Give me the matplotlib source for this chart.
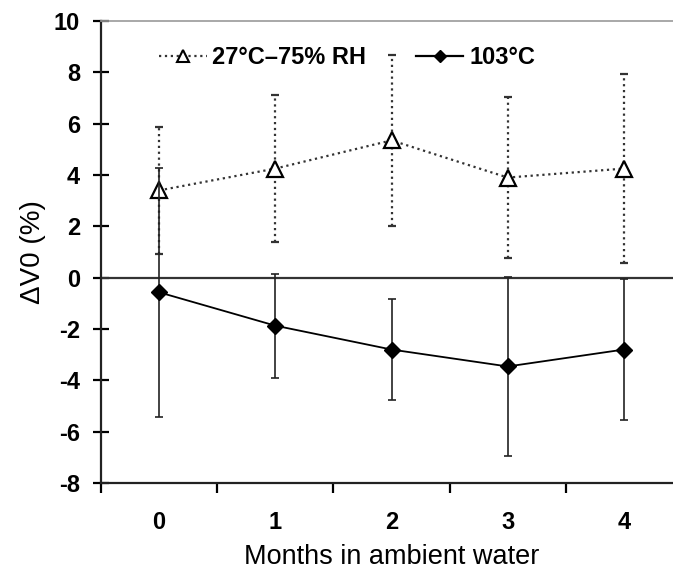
import numpy as np
import matplotlib.pyplot as plt
from matplotlib.lines import Line2D

plt.rcParams['font.family'] = ['Liberation Sans', 'DejaVu Sans']
plt.rcParams['axes.unicode_minus'] = False

months = [0, 1, 2, 3, 4]
month_labels = ['0', '1', '2', '3', '4']

# 27°C-75% RH
humid_mean = [3.4, 4.25, 5.35, 3.9, 4.25]
humid_err = [2.47, 2.85, 3.34, 3.15, 3.67]

# 103°C
dry_mean = [-0.57, -1.87, -2.8, -3.46, -2.8]
dry_err = [4.85, 2.03, 1.95, 3.47, 2.75]

fig = plt.figure(figsize=(6.73, 5.70), dpi=100)
ax = fig.add_axes([101 / 673, 87 / 570, 581 / 673, 462 / 570])

x = np.array(months)

eb1 = ax.errorbar(x, humid_mean, yerr=humid_err, color='#333333', ls=':', lw=1.6,
                  marker='^', ms=12, mfc='white', mec='black', mew=1.6,
                  ecolor='#333333', elinewidth=1.6, capsize=3, capthick=1.4,
                  zorder=3)
eb1[-1][0].set_linestyle(':')

ax.errorbar(x, dry_mean, yerr=dry_err, color='black', ls='-', lw=1.3,
            marker='D', ms=8, mfc='black', mec='black',
            ecolor='#222222', elinewidth=1.2, capsize=3, capthick=1.2,
            zorder=4)

ax.axhline(0, color='#333333', lw=1.6, zorder=2)

ax.set_xlim(-0.5, 4.5)
ax.set_ylim(-8, 10)
ax.set_yticks(np.arange(-8, 11, 2))
ax.set_xticks(x)
ax.set_xticklabels(month_labels)
ax.set_xticks(np.arange(-0.5, 4.6, 1), minor=True)
ax.tick_params(axis='x', which='major', length=0, pad=20, labelsize=17)
ax.tick_params(axis='x', which='minor', length=7, width=1.6, direction='out')
ax.tick_params(axis='y', length=11, width=1.6, direction='inout', pad=9.5, labelsize=17)
for lab in ax.get_xticklabels() + ax.get_yticklabels():
    lab.set_fontweight('bold')

for s in ['left', 'bottom']:
    ax.spines[s].set_linewidth(1.6)
    ax.spines[s].set_color('#222222')
ax.spines['right'].set_visible(False)
ax.spines['top'].set_color('#999999')
ax.spines['top'].set_linewidth(1.2)

ax.set_xlabel('Months in ambient water', fontsize=19.5, labelpad=7)
ax.set_ylabel('ΔV0 (%)', fontsize=20, labelpad=6)

handles = [
    Line2D([], [], color='#333333', ls=':', lw=1.6, marker='^', ms=9,
           mfc='white', mec='black', mew=1.5),
    Line2D([], [], color='black', ls='-', lw=1.6, marker='D', ms=6,
           mfc='black', mec='black'),
]
ax.legend(handles, ['27°C–75% RH', '103°C'], loc='upper left',
          bbox_to_anchor=(0.076, 0.976), ncol=2, frameon=False,
          handlelength=2.0, columnspacing=2.1, handletextpad=0.25,
          borderaxespad=0.2, prop={'weight': 'bold', 'size': 17})

fig.savefig('out.png', dpi=100)
